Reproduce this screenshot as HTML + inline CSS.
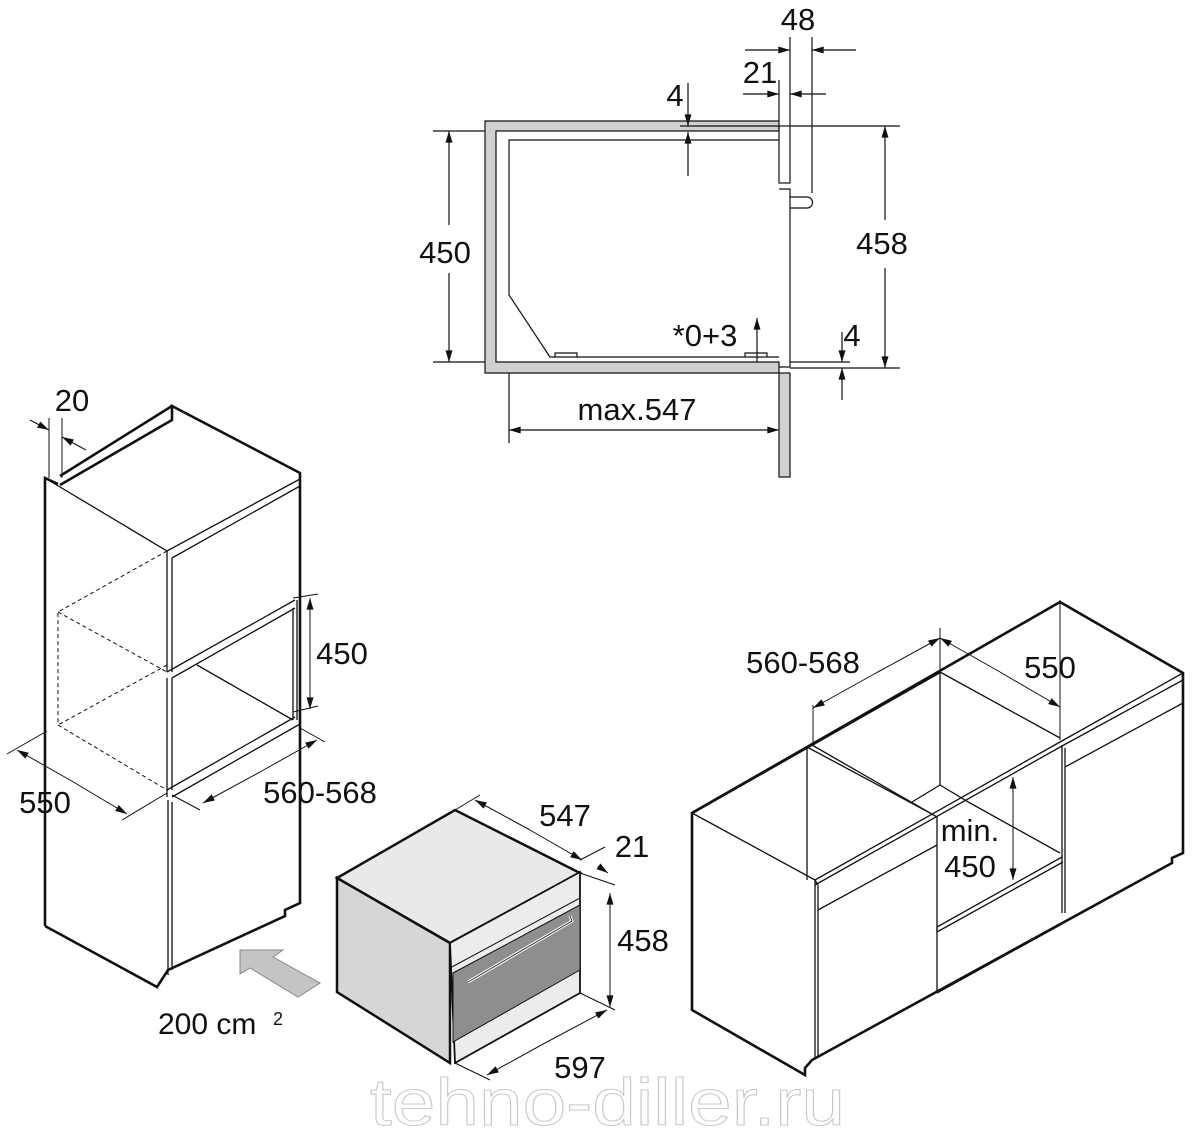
<!DOCTYPE html>
<html><head><meta charset="utf-8"><style>
html,body{margin:0;padding:0;background:#fff}
svg{display:block}
text{font-family:"Liberation Sans",Arial,sans-serif;fill:#111}
</style></head><body>
<svg width="1192" height="1128" viewBox="0 0 1192 1128" xmlns="http://www.w3.org/2000/svg">
<defs>
<marker id="a" viewBox="0 0 10 6" refX="10" refY="3" markerWidth="13" markerHeight="7" orient="auto" markerUnits="userSpaceOnUse"><path d="M0,0 L10,3 L0,6 z" fill="#111"/></marker>
</defs>
<g font-size="31">
<!-- ========== TOP SECTION ========== -->
<g stroke="#111" stroke-width="1.2" fill="none">
<path d="M485,121 H779 V131 H496 V362 H779 V373 H485 Z" fill="#d0d0d0"/>
<rect x="779" y="373" width="11" height="104" fill="#d0d0d0"/>
<path d="M779,140 H509 V295 L550,357 H779"/>
<path d="M555,357 v-4 h22 v4 M745,357 v-4 h22 v4"/>
<rect x="779" y="126" width="11" height="57"/>
<path d="M779,189 H790 V367 H779"/>
<path d="M790,197 H807 A5,5 0 0 1 807,208 H790"/>
<line x1="433" y1="131" x2="485" y2="131"/><line x1="433" y1="362" x2="485" y2="362"/>
<line x1="449" y1="225" x2="449" y2="131" marker-end="url(#a)"/>
<line x1="449" y1="273" x2="449" y2="362" marker-end="url(#a)"/>
<line x1="790" y1="126" x2="900" y2="126"/><line x1="790" y1="368" x2="900" y2="368"/>
<line x1="885" y1="220" x2="885" y2="126" marker-end="url(#a)"/>
<line x1="885" y1="268" x2="885" y2="368" marker-end="url(#a)"/>
<line x1="509" y1="373" x2="509" y2="443"/>
<line x1="640" y1="430" x2="509" y2="430" marker-end="url(#a)"/>
<line x1="640" y1="430" x2="779" y2="430" marker-end="url(#a)"/>
<line x1="680" y1="126" x2="779" y2="126"/>
<line x1="688" y1="83" x2="688" y2="126" marker-end="url(#a)"/>
<line x1="688" y1="176" x2="688" y2="132" marker-end="url(#a)"/>
<line x1="790" y1="37" x2="790" y2="126"/><line x1="812" y1="37" x2="812" y2="193"/>
<line x1="745" y1="50" x2="790" y2="50" marker-end="url(#a)"/>
<line x1="856" y1="50" x2="812" y2="50" marker-end="url(#a)"/>
<line x1="779" y1="80" x2="779" y2="121"/>
<line x1="743" y1="94" x2="779" y2="94" marker-end="url(#a)"/>
<line x1="826" y1="94" x2="790" y2="94" marker-end="url(#a)"/>
<line x1="757" y1="362" x2="757" y2="318" marker-end="url(#a)"/>
<line x1="790" y1="362" x2="850" y2="362"/>
<line x1="842" y1="332" x2="842" y2="362" marker-end="url(#a)"/>
<line x1="842" y1="400" x2="842" y2="368" marker-end="url(#a)"/>
</g>
<text x="445" y="263" text-anchor="middle">450</text>
<text x="882" y="254" text-anchor="middle">458</text>
<text x="637" y="420" text-anchor="middle">max.547</text>
<text x="675" y="106" text-anchor="middle">4</text>
<text x="798" y="30" text-anchor="middle">48</text>
<text x="760" y="83" text-anchor="middle">21</text>
<text x="705" y="346" text-anchor="middle">*0+3</text>
<text x="852" y="346" text-anchor="middle">4</text>

<!-- ========== LEFT TALL CABINET ========== -->
<g stroke="#111" fill="none">
<g stroke-width="2.6">
<path d="M45,926 V478 L58,484"/>
<path d="M60,485 L172,420 V406 L300,473 V903 L285,910 V916 L168,970 L157,987 L45,926"/>
<path d="M172,406 L60,476"/>
</g>
<g stroke-width="1.3">
<path d="M45,478 L167,551 L300,479"/>
<path d="M172,558 L300,486"/>
<line x1="167" y1="551" x2="167" y2="672"/><line x1="172" y1="558" x2="172" y2="672"/>
<path d="M167,672 L295,600 M172,678 L295,608"/>
<line x1="293" y1="608" x2="293" y2="720"/><line x1="297" y1="600" x2="297" y2="720"/>
<path d="M197,665 L293,720"/>
<path d="M167,790 L295,717 M172,797 L300,724 M167,790 V797"/>
<line x1="167" y1="678" x2="167" y2="790"/><line x1="172" y1="678" x2="172" y2="790"/>
<line x1="168" y1="800" x2="168" y2="975"/><line x1="172" y1="802" x2="172" y2="970"/>
</g>
<g stroke-width="1" stroke-dasharray="4,3">
<path d="M167,551 L58,612 V725 L167,790"/>
<path d="M58,612 L167,672"/>
<path d="M167,665 L58,725"/>
</g>
<g stroke-width="1">
<line x1="49" y1="418" x2="49" y2="478"/><line x1="62" y1="418" x2="62" y2="478"/>
<line x1="30" y1="420" x2="49" y2="430" marker-end="url(#a)"/>
<line x1="86" y1="450" x2="62" y2="437" marker-end="url(#a)"/>
<line x1="293" y1="598" x2="318" y2="594"/><line x1="293" y1="712" x2="318" y2="706"/>
<line x1="310" y1="650" x2="310" y2="598" marker-end="url(#a)"/>
<line x1="310" y1="650" x2="310" y2="709" marker-end="url(#a)"/>
<line x1="7" y1="754" x2="47" y2="731"/><line x1="122" y1="820" x2="167" y2="793"/>
<line x1="70" y1="780" x2="17" y2="750" marker-end="url(#a)"/>
<line x1="70" y1="780" x2="127" y2="814" marker-end="url(#a)"/>
<line x1="200" y1="810" x2="172" y2="795"/><line x1="325" y1="742" x2="300" y2="728"/>
<line x1="260" y1="772" x2="203" y2="803" marker-end="url(#a)"/>
<line x1="260" y1="772" x2="317" y2="740" marker-end="url(#a)"/>
</g>
</g>
<path d="M240,974 L240,950 L283,950 L273,957 L320,983 L298,997 L250,968 Z" fill="#c4c4c4" stroke="#888" stroke-width="1"/>
<text x="72" y="411" text-anchor="middle">20</text>
<text x="342" y="664" text-anchor="middle">450</text>
<text x="45" y="813" text-anchor="middle">550</text>
<text x="320" y="803" text-anchor="middle">560-568</text>
<text x="158" y="1034" font-size="30">200 cm</text>
<text x="273" y="1025" font-size="18">2</text>

<!-- ========== OVEN ========== -->
<g stroke="#111">
<path d="M337,878 L455,810 L580,873 L450,943 Z" fill="#e9e9e9" stroke-width="2.5"/>
<path d="M337,878 L450,943 V1063 L337,992 Z" fill="#d6d6d6" stroke-width="2.5"/>
<path d="M450,943 L580,872 V993 L455,1063 Z" fill="#ececec" stroke-width="1.8"/>
<path d="M453,973 L580,905 V970 L453,1042 Z" fill="#8e8e8e" stroke-width="1"/>
<path d="M450,968 L580,898" fill="none" stroke-width="1"/>
<path d="M468,982 L572,921 L570,916" fill="none" stroke="#fff" stroke-width="3"/>
<path d="M468,982 L572,921 L570,916" fill="none" stroke="#333" stroke-width="1"/>
<g stroke-width="1" fill="none">
<line x1="455" y1="810" x2="480" y2="795"/><line x1="580" y1="860" x2="605" y2="847"/>
<line x1="530" y1="830" x2="475" y2="800" marker-end="url(#a)"/>
<line x1="530" y1="830" x2="582" y2="860" marker-end="url(#a)"/>
<line x1="598" y1="866" x2="608" y2="873" marker-end="url(#a)"/>
<line x1="580" y1="873" x2="615" y2="885"/><line x1="580" y1="993" x2="615" y2="1010"/>
<line x1="610" y1="950" x2="610" y2="893" marker-end="url(#a)"/>
<line x1="610" y1="950" x2="610" y2="1007" marker-end="url(#a)"/>
<line x1="455" y1="1063" x2="490" y2="1080"/>
<line x1="545" y1="1043" x2="487" y2="1075" marker-end="url(#a)"/>
<line x1="545" y1="1043" x2="607" y2="1010" marker-end="url(#a)"/>
</g>
</g>
<text x="565" y="826" text-anchor="middle">547</text>
<text x="632" y="857" text-anchor="middle">21</text>
<text x="643" y="951" text-anchor="middle">458</text>
<text x="580" y="1078" text-anchor="middle">597</text>

<!-- ========== RIGHT CABINET ========== -->
<g stroke="#111" fill="none">
<path d="M692,813 L1060,602 L1183,673 V853 L1172,858 V863 L812,1060 L805,1068 L805,1075 L692,1010 Z" stroke-width="2.6"/>
<path d="M692,813 L940,672" stroke-width="2.6"/>
<g stroke-width="1.3">
<path d="M692,813 L815,880"/>
<path d="M815,880 L1060,742 L1183,673"/>
<path d="M815,885 L1062,746"/>
<path d="M1062,746 L1183,680"/>
<path d="M807,747 V880"/>
<path d="M815,880 V1057 M818,885 V1057 M815,880 L818,885"/>
<path d="M807,747 L930,813 M812,745 L937,817"/>
<path d="M818,910 L937,845"/>
<path d="M940,672 V785 M940,672 L1060,738"/>
<path d="M940,785 L912,802 M940,785 L970,803 L1060,853"/>
<path d="M937,817 V993"/>
<path d="M1062,745 V913 M1065,748 V913"/>
<path d="M1065,767 L1183,703"/>
<path d="M937,927 L1062,857 M937,932 L1063,862 M937,927 V932"/>
<path d="M937,993 L1060,925"/>
</g>
<g stroke-width="1">
<line x1="813" y1="705" x2="813" y2="746"/><line x1="940" y1="628" x2="940" y2="672"/>
<line x1="1060" y1="600" x2="1060" y2="740"/>
<line x1="876" y1="673" x2="813" y2="708" marker-end="url(#a)"/>
<line x1="876" y1="673" x2="940" y2="638" marker-end="url(#a)"/>
<line x1="1000" y1="672" x2="940" y2="638" marker-end="url(#a)"/>
<line x1="1000" y1="672" x2="1060" y2="707" marker-end="url(#a)"/>
<line x1="1013" y1="830" x2="1013" y2="777" marker-end="url(#a)"/>
<line x1="1013" y1="830" x2="1013" y2="880" marker-end="url(#a)"/>
</g>
</g>
<text x="803" y="673" text-anchor="middle">560-568</text>
<text x="1050" y="678" text-anchor="middle">550</text>
<text x="970" y="841" text-anchor="middle">min.</text>
<text x="970" y="877" text-anchor="middle">450</text>
</g>
<text x="370" y="1125" font-size="66" textLength="475" lengthAdjust="spacingAndGlyphs" style="fill:none;stroke:#c8c8c8;stroke-width:1">tehno-diller.ru</text>
</svg>
</body></html>
